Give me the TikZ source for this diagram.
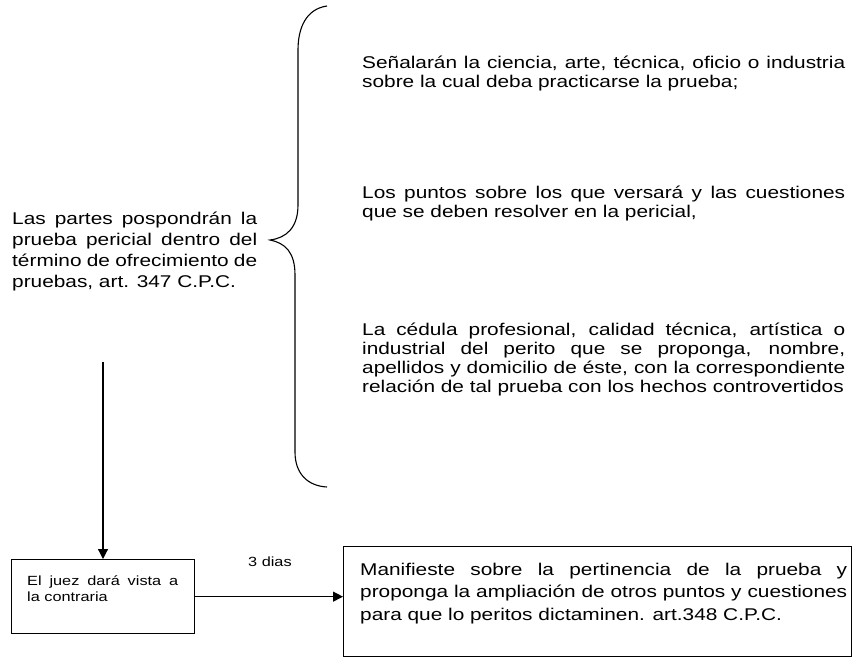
\documentclass[tikz,border=0pt]{standalone}
\usepackage{fontspec}
\setmainfont{Liberation Sans}[FakeStretch=1.225]
\usetikzlibrary{arrows.meta}
\tikzset{
  texto/.style={anchor=base west, inner sep=0pt, align=justify, font=\fontsize{17}{19.3}\selectfont},
  chico/.style={anchor=base west, inner sep=0pt, align=justify, font=\fontsize{13.3}{16.7}\selectfont},
  caja/.style={draw, line width=1.3pt, anchor=north west, inner sep=0pt},
  flecha/.style={line width=1.2pt, -{Triangle[length=10pt,width=10pt]}},
  llave/.style={line width=1.1pt}
}

\begin{document}
\begin{tikzpicture}[x=1pt,y=-1pt]
  \useasboundingbox (0,0) rectangle (852,659);

  \node[texto, text width=245pt, font=\fontsize{17}{21}\selectfont] (partes) at (12,224)
    {Las partes pospondrán la\linebreak prueba pericial dentro del\linebreak término de ofrecimiento de\linebreak pruebas, art. 347 C.P.C.};

  \coordinate (punta) at (270,240);
  \draw[llave] (327,6) .. controls (306,9) and (298,28) .. (298,50) -- (298,205)
    .. controls (298,228) and (286,238) .. (punta)
    .. controls (285,243) and (295,252) .. (295,275) -- (295,452)
    .. controls (295,474) and (308,486) .. (327,487);

  \node[texto, text width=483pt] (ciencia) at (362,68)
    {Señalarán la ciencia, arte, técnica, oficio o industria\linebreak sobre la cual deba practicarse la prueba;};
  \node[texto, text width=483pt] (puntos) at (362,198)
    {Los puntos sobre los que versará y las cuestiones\linebreak que se deben resolver en la pericial,};
  \node[texto, text width=483pt, font=\fontsize{17}{19}\selectfont] (cedula) at (362,335)
    {La cédula profesional, calidad técnica, artística o\linebreak industrial del perito que se proponga, nombre,\linebreak apellidos y domicilio de éste, con la correspondiente\linebreak relación de tal prueba con los hechos controvertidos};

  \node[caja, minimum width=183pt, minimum height=74pt] (juez) at (11,559) {};
  \node[chico, text width=151pt] (juezTexto) at (27,585)
    {El juez dará vista a\linebreak la contraria};

  \node[caja, minimum width=508pt, minimum height=110pt] (manifieste) at (343,546) {};
  \node[texto, text width=487pt, font=\fontsize{17}{22.5}\selectfont] (manifiesteTexto) at (360,575)
    {Manifieste sobre la pertinencia de la prueba y\linebreak proponga la ampliación de otros puntos y cuestiones\linebreak para que lo peritos dictaminen. art.348 C.P.C.};

  \node[chico] (dias) at (248,566.7) {3 dias};

  \coordinate (inicio) at (103,362);
  \draw[flecha] (inicio) -- (inicio |- juez.north);
  \draw[flecha] (juez.east) -- (juez.east -| manifieste.west);
\end{tikzpicture}
\end{document}
